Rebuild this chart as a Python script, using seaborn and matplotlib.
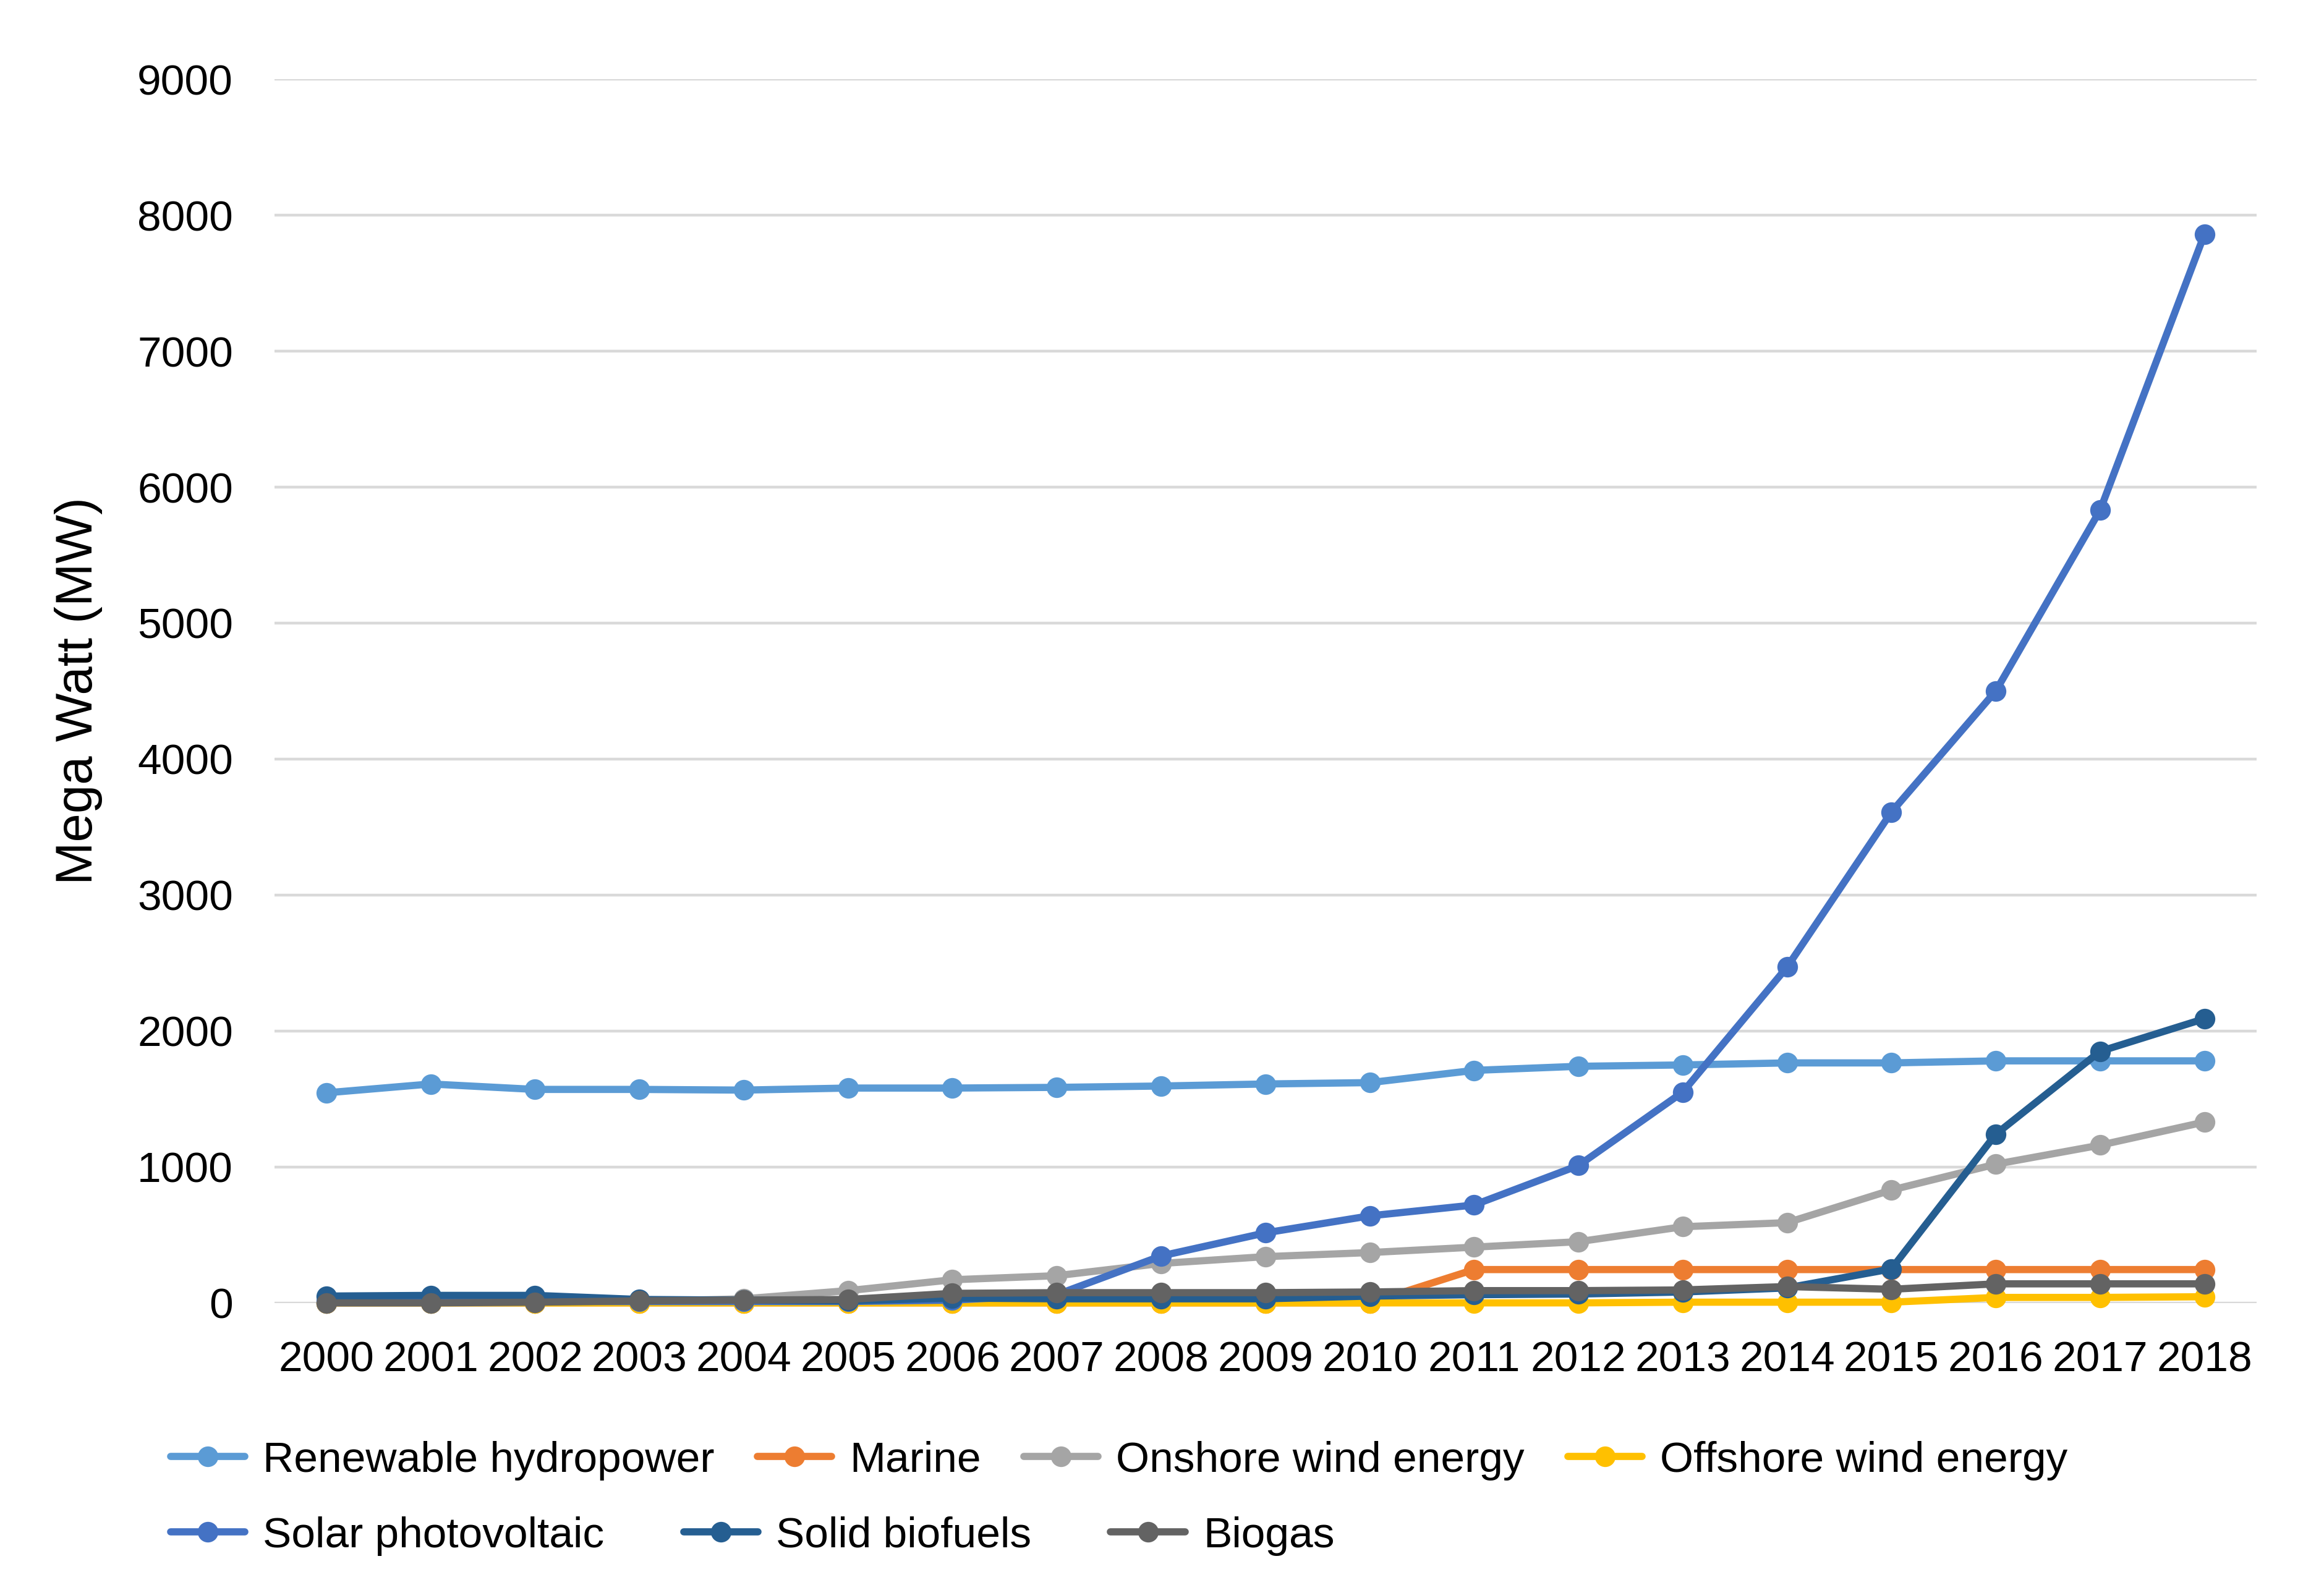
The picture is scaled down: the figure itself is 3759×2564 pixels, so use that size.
import pandas as pd
import matplotlib.pyplot as plt
import seaborn as sns
from matplotlib.lines import Line2D

years = list(range(2000, 2019))

hydropower = [1545, 1610, 1570, 1570, 1565, 1580, 1580, 1585, 1595, 1610,
              1620, 1710, 1740, 1750, 1765, 1765, 1780, 1780, 1780]
marine = [0, 0, 0, 0, 0, 0, 0, 0, 0, 0,
          0, 245, 245, 245, 245, 245, 245, 245, 245]
onshore_wind = [0, 0, 0, 10, 30, 90, 170, 200, 290, 340,
                370, 410, 450, 560, 590, 830, 1020, 1160, 1330]
offshore_wind = [0, 0, 0, 0, 0, 0, 0, 0, 0, 0,
                 0, 0, 0, 5, 5, 5, 40, 40, 45]
solar_pv = [10, 10, 10, 10, 10, 10, 20, 60, 345, 515,
            640, 720, 1010, 1550, 2470, 3610, 4500, 5830, 7860]
solid_biofuels = [50, 55, 55, 25, 20, 15, 35, 30, 30, 30,
                  50, 60, 65, 80, 110, 250, 1240, 1850, 2090]
biogas = [0, 0, 5, 15, 20, 25, 70, 75, 75, 75,
          80, 90, 90, 95, 120, 100, 140, 140, 140]

series_names = ["Renewable hydropower", "Marine", "Onshore wind energy",
                "Offshore wind energy", "Solar photovoltaic", "Solid biofuels", "Biogas"]
series_values = [hydropower, marine, onshore_wind, offshore_wind,
                 solar_pv, solid_biofuels, biogas]
colors = ["#5B9BD5", "#ED7D31", "#A5A5A5", "#FFC000", "#4472C4", "#255E91", "#636363"]

wide = pd.DataFrame(dict(zip(series_names, series_values)), index=years)
wide.index.name = "Year"
df = wide.reset_index().melt(id_vars="Year", var_name="Source", value_name="MW")

sns.set_theme(style="white")
plt.rcParams["font.family"] = ["Liberation Sans", "DejaVu Sans"]
plt.rcParams["text.color"] = "black"
plt.rcParams["axes.labelcolor"] = "black"

fig, ax = plt.subplots(figsize=(18.795, 12.82), dpi=200)
fig.subplots_adjust(left=0.118, right=0.971, bottom=0.178, top=0.95)

lw = 4.2
ms = 12
sns.lineplot(data=df, x="Year", y="MW", hue="Source", hue_order=series_names,
             palette=colors, marker="o", markersize=ms, markeredgewidth=0,
             linewidth=lw, legend=False, ax=ax)
for ln in ax.lines:
    ln.set_clip_on(False)

ax.set_xlim(1999.5, 2018.5)
ax.set_ylim(0, 9000)
ax.set_xticks(years)
ax.set_xticklabels([str(y) for y in years])
ax.set_yticks(range(0, 9001, 1000))
ax.tick_params(axis="both", length=0, labelsize=25, colors="black")
ax.tick_params(axis="y", pad=24)
ax.tick_params(axis="x", pad=22)
ax.grid(axis="y", color="#D9D9D9", linewidth=1.6)
ax.set_axisbelow(True)
for sp in ax.spines.values():
    sp.set_visible(False)
ax.set_xlabel("")
ax.set_ylabel("Mega Watt (MW)", fontsize=30, labelpad=20, color="black")

handles = [Line2D([0], [0], color=c, linewidth=lw, marker="o", markersize=ms,
                  markeredgewidth=0) for c in colors]
leg1 = fig.legend(handles[:4], series_names[:4], loc="center left",
                  bbox_to_anchor=(0.0733, 0.0785), ncol=4, frameon=False,
                  fontsize=25, borderpad=0, borderaxespad=0, handlelength=1.73,
                  handletextpad=0.42, columnspacing=1.0, labelcolor="black")
leg2 = fig.legend(handles[4:], series_names[4:], loc="center left",
                  bbox_to_anchor=(0.0733, 0.031), ncol=3, frameon=False,
                  fontsize=25, borderpad=0, borderaxespad=0, handlelength=1.73,
                  handletextpad=0.42, columnspacing=1.85, labelcolor="black")

fig.savefig("out.png", dpi=200, facecolor="white")
plt.close(fig)
